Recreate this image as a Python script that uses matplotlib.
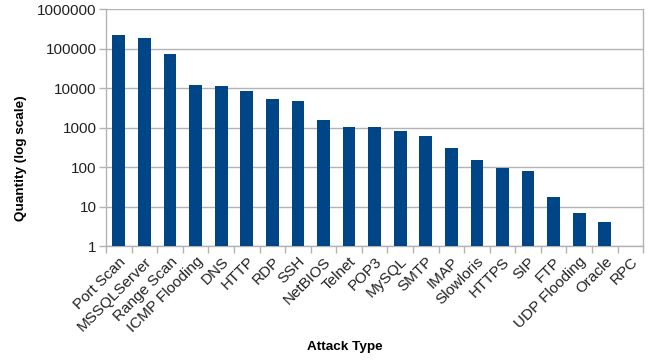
import matplotlib
matplotlib.use('Agg')
import matplotlib.pyplot as plt
import numpy as np
from matplotlib.ticker import FixedLocator, NullFormatter, NullLocator

# attack counts per type
attack_types = ['Port Scan', 'MSSQLServer', 'Range Scan', 'ICMP Flooding', 'DNS',
                'HTTP', 'RDP', 'SSH', 'NetBIOS', 'Telnet', 'POP3', 'MySQL', 'SMTP',
                'IMAP', 'Slowloris', 'HTTPS', 'SIP', 'FTP', 'UDP Flooding', 'Oracle', 'RPC']
quantities = [221000, 186000, 73400, 12100, 11400, 8550, 5380, 4800, 1580, 1040,
              1040, 822, 614, 304, 151, 94, 79, 18, 7, 4, 1]
y_ticks = [1, 10, 100, 1000, 10000, 100000, 1000000]

plt.rcParams['font.family'] = ['Liberation Sans', 'DejaVu Sans']
grey = '#b3b3b3'

fig = plt.figure(figsize=(6.59, 3.62), dpi=100)
ax = fig.add_axes([0.161, 0.320, 0.815, 0.655])

x = np.arange(len(attack_types))
ax.bar(x, quantities, width=0.5, color='#004586', zorder=3)

ax.set_yscale('log')
ax.set_ylim(1, 1000000)
ax.set_xlim(-0.5, len(attack_types) - 0.5)
ax.yaxis.set_major_locator(FixedLocator(y_ticks))
ax.set_yticklabels([str(t) for t in y_ticks], fontsize=11, color='#222222')
ax.yaxis.set_minor_locator(NullLocator())
ax.grid(axis='y', color=grey, linewidth=1, zorder=0)

# labels at bar centres, tick marks on category boundaries
ax.set_xticks(x)
ax.set_xticklabels(attack_types, rotation=45, ha='right', rotation_mode='anchor',
                   fontsize=11, color='#222222')
ax.tick_params(axis='x', which='major', length=0, pad=6)
ax.xaxis.set_minor_locator(FixedLocator(np.arange(-0.5, len(attack_types), 1)))
ax.xaxis.set_minor_formatter(NullFormatter())
ax.tick_params(axis='x', which='minor', length=5, color=grey, width=1)
ax.tick_params(axis='y', length=5, color=grey, width=1, pad=2)

for side in ['left', 'bottom', 'right']:
    ax.spines[side].set_color(grey)
    ax.spines[side].set_linewidth(1)
ax.spines['top'].set_visible(False)

# axis titles placed on the figure
fig.text(345 / 659, 1 - 347 / 362, 'Attack Type', fontsize=9.7, fontweight='bold',
         ha='center', va='center')
fig.text(21 / 659, 1 - 158 / 362, 'Quantity (log scale)', fontsize=9.7,
         fontweight='bold', rotation=90, ha='center', va='center')

fig.savefig('out.png', dpi=100)
